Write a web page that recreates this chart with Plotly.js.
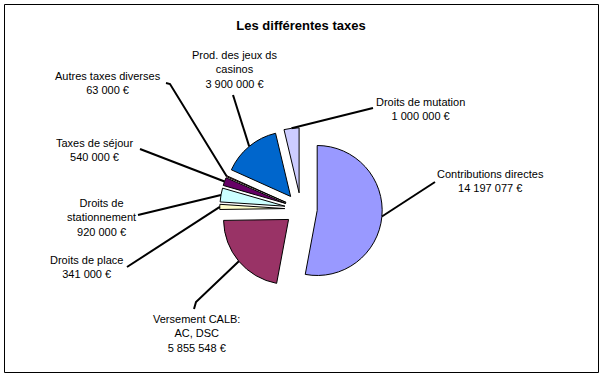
<!DOCTYPE html>
<html>
<head>
<meta charset="utf-8">
<script src="https://cdn.plot.ly/plotly-3.0.1.min.js"></script>
<style>html,body{margin:0;padding:0;background:#fff;}#chart{width:605px;height:379px;}</style>
</head>
<body>
<div id="chart"></div>
<script>
// ---- data ----
const categories = ["Contributions directes", "Versement CALB:<br>AC, DSC", "Droits de place", "Droits de<br>stationnement", "Taxes de séjour", "Autres taxes diverses", "Prod. des jeux ds<br>casinos", "Droits de mutation"];
const values = [14197077, 5855548, 341000, 920000, 540000, 63000, 3900000, 1000000];
const valueLabels = ["14 197 077 €", "5 855 548 €", "341 000 €", "920 000 €", "540 000 €", "63 000 €", "3 900 000 €", "1 000 000 €"];
const colors = ["#9999FF", "#993366", "#FFFFCC", "#CCFFFF", "#660066", "#FF8080", "#0066CC", "#CCCCFF"];

// ---- layout geometry (pixels) ----
const W = 605, H = 379;
const cx = 301, cy = 209, r = 65, pull = 0.25;
const half = r * (1 + pull);
const px = x => x / W, py = y => 1 - y / H;

// label text centres and leader-line starting points (pixels)
const labelPos = [[490, 181], [196, 333], [86, 267], [102, 217], [94, 149.5], [108, 83], [234, 69], [420, 109]];
const lineStart = [
  [[435, 182]],
  [[194, 309], [196, 302]],
  [[127, 267]],
  [[138, 215]],
  [[140, 149]],
  [[166, 83], [170, 84]],
  [[233, 95]],
  [[373, 108]]
];

const total = values.reduce((a, b) => a + b, 0);
let cum = 0;
const shapes = [{
  type: 'rect', xref: 'paper', yref: 'paper',
  x0: px(4.5), x1: px(598.5), y0: py(372.5), y1: py(4.5),
  line: {color: '#000', width: 1}
}];
const annotations = [];
values.forEach((v, i) => {
  const mid = (cum + v / 2) / total * 2 * Math.PI;
  cum += v;
  const ex = cx + half * Math.sin(mid);
  const ey = cy - half * Math.cos(mid);
  const pts = lineStart[i].concat([[ex, ey]]);
  let d = '';
  pts.forEach((p, k) => { d += (k ? ' L ' : 'M ') + px(p[0]) + ',' + py(p[1]); });
  shapes.push({type: 'path', xref: 'paper', yref: 'paper', path: d, line: {color: '#000', width: 2}});
  annotations.push({
    xref: 'paper', yref: 'paper', x: px(labelPos[i][0]), y: py(labelPos[i][1]),
    xanchor: 'center', yanchor: 'middle', showarrow: false, align: 'center',
    text: categories[i] + '<br>' + valueLabels[i],
    font: {family: 'Liberation Sans, Arial, sans-serif', size: 11, color: '#000'}
  });
});

const trace = {
  type: 'pie',
  labels: categories,
  values: values,
  sort: false,
  direction: 'clockwise',
  rotation: 0,
  pull: values.map(() => pull),
  marker: {colors: colors, line: {color: '#000', width: 1}},
  textinfo: 'none',
  hoverinfo: 'label+value',
  showlegend: false,
  domain: {x: [px(cx - half), px(cx + half)], y: [py(cy + half), py(cy - half)]}
};

const layout = {
  width: W, height: H,
  margin: {l: 0, r: 0, t: 0, b: 0},
  paper_bgcolor: '#fff', plot_bgcolor: '#fff',
  showlegend: false,
  title: {
    text: '<b>Les différentes taxes</b>',
    x: px(301), xanchor: 'center', y: py(25), yanchor: 'middle', yref: 'container',
    font: {family: 'Liberation Sans, Arial, sans-serif', size: 13, color: '#000'}
  },
  shapes: shapes,
  annotations: annotations
};

Plotly.newPlot('chart', [trace], layout, {staticPlot: true});
</script>
</body>
</html>
